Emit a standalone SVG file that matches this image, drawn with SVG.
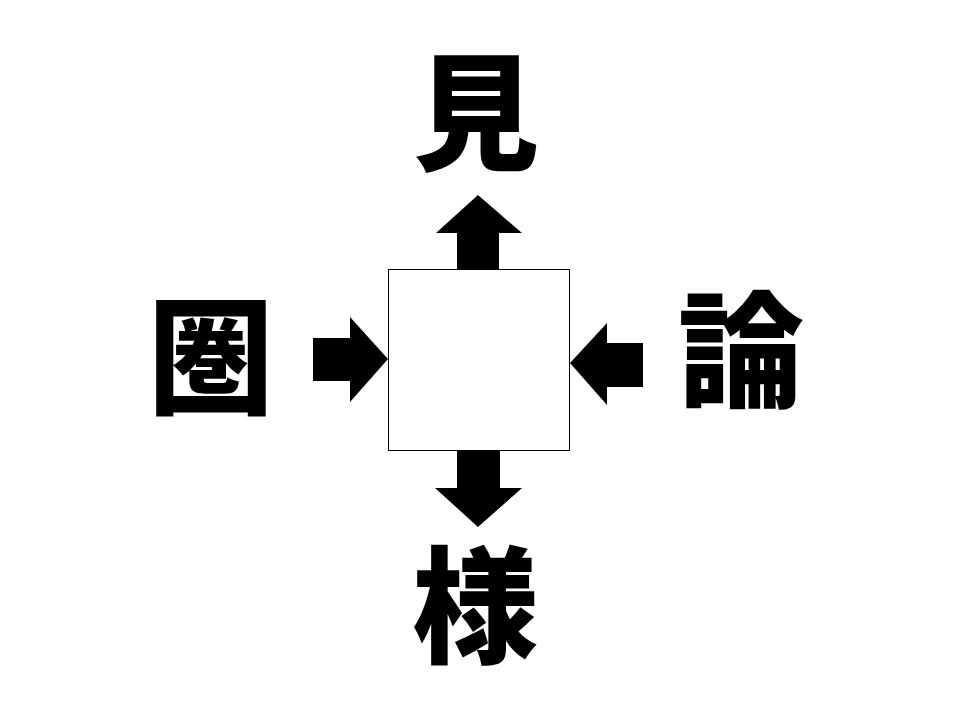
<svg xmlns="http://www.w3.org/2000/svg" width="960" height="720" viewBox="0 0 960 720">
<style>
.k{font-family:"Noto Sans CJK JP","Noto Sans CJK SC",sans-serif;font-weight:900;font-size:126px;text-anchor:middle;fill:#000}
.a{fill:#000}
</style>
<rect width="960" height="720" fill="#fff"/>
<g id="connectors">
<polygon class="a" points="457,269 457,233 436,233 478,195 522,233 499,233 499,269"/>
<polygon class="a" points="313,338 350,338 350,317 388,359 350,402 350,381 313,381"/>
<polygon class="a" points="643,343 607,343 607,323 570,363 607,405 607,387 643,387"/>
<polygon class="a" points="457,450 500,450 500,488 522,488 478,527 435,488 457,488"/>
</g>
<g id="center"><rect x="388.5" y="269.5" width="181" height="181" fill="#fff" stroke="#000" stroke-width="1"/></g>
<g id="top"><text class="k" x="476" y="160">見</text></g>
<g id="left"><text class="k" x="211" y="404">圏</text></g>
<g id="right"><text class="k" x="741" y="398">論</text></g>
<g id="bottom"><text class="k" x="475" y="653">様</text></g>
</svg>
